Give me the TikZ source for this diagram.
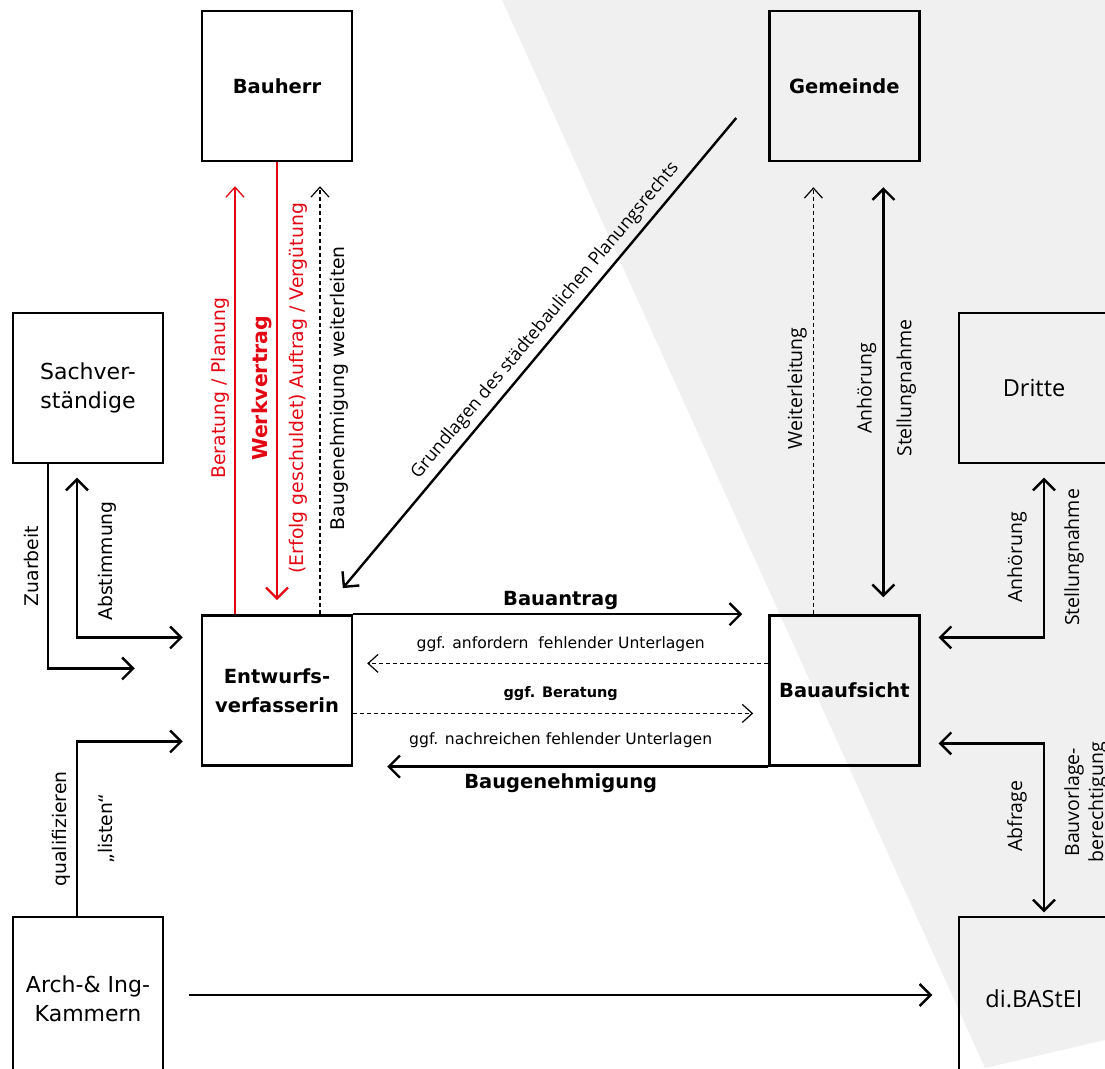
\documentclass[tikz,border=0pt]{standalone}
\usepackage{fontspec}
\setmainfont{DejaVu Sans}
\newfontfamily\osans{Open Sans}
\usetikzlibrary{positioning, arrows.meta}
\definecolor{dbred}{HTML}{E30613}
\definecolor{dbgray}{HTML}{F0F0F0}

\begin{document}
\begin{tikzpicture}[x=1pt, y=-1pt]
\tikzstyle{sqr}=[rectangle, draw=black, line width=2.4pt, minimum size=150pt, align=center, font=\fontsize{19.5}{29}\selectfont\bfseries]
\tikzstyle{sqrl}=[rectangle, draw=black, line width=1.4pt, minimum size=150pt, align=center, font=\fontsize{22}{29}\selectfont]
\tikzstyle{connect}=[->, >={Straight Barb[length=11pt, width=22pt]}, line width=2.4pt]
\tikzstyle{both}=[connect, <->]
\tikzstyle{fine}=[->, >={Straight Barb[length=10pt, width=18pt]}, line width=1.2pt]
\tikzstyle{dashd}=[fine, dash pattern=on 4pt off 3pt]
\tikzstyle{lbl}=[inner sep=2pt, font=\fontsize{18.8}{22}\selectfont]
\tikzstyle{lblh}=[inner sep=2pt, font=\fontsize{15.6}{19}\selectfont]
\tikzstyle{lblb}=[inner sep=2pt, font=\fontsize{19.5}{23}\selectfont\bfseries]
\tikzstyle{lblo}=[inner sep=2pt, font=\osans\fontsize{19.5}{24}\selectfont]
\tikzstyle{vl}=[rotate=90, anchor=south]
\tikzstyle{vr}=[rotate=90, anchor=north]
% 1. Background
%%%%%%%%%%%%%%%
\useasboundingbox (0,0) rectangle (1105,1068);
\clip (0,0) rectangle (1105,1068);
\fill[dbgray] (502,0) -- (1105,0) -- (1105,1040) -- (985,1068) -- cycle;
% 2. Nodes
%%%%%%%%%%
\node[sqr] (bauherr) at (277,86) {Bauherr};
\node[sqr] (gemeinde) [right=415pt of bauherr] {Gemeinde};
\node[sqr] (entwurf) [below=452pt of bauherr] {Entwurfs-\\verfasserin};
\node[sqr] (aufsicht) [below=452pt of gemeinde] {Bauaufsicht};
\node[sqrl] (sachv) at (88,388) {Sachver-\\ständige};
\node[sqrl, font=\osans\fontsize{23.5}{28}\selectfont] (dritte) at (1034,388) {Dritte};
\node[sqrl, minimum height=164pt] (kammern) at (88,999) {Arch-\& Ing-\\Kammern};
\node[sqrl, minimum height=164pt, font=\osans\fontsize{23.5}{28}\selectfont] (bastei) at (1034,999) {di.BAStEI};
% 3. Arrows
%%%%%%%%%%%
% Bauherr - Entwurfsverfasserin
\draw[fine, dbred, line width=1.3pt, shorten >=24pt] ([xshift=-42pt]entwurf.north) -- ([xshift=-42pt]bauherr.south)
    node[midway, xshift=-3pt, vl, lbl] {Beratung / Planung};
\draw[connect, dbred, shorten >=14pt] (bauherr.south) -- (entwurf.north)
    node[midway, xshift=-2pt, vl, lblb, font=\fontsize{20.5}{24}\selectfont\bfseries] {Werkvertrag}
    node[midway, xshift=9pt, vr, lbl] {(Erfolg geschuldet) Auftrag / Vergütung};
\draw[dashd, shorten >=24pt] ([xshift=43pt]entwurf.north) -- ([xshift=43pt]bauherr.south)
    node[midway, xshift=8pt, vr, lbl] {Baugenehmigung weiterleiten};
% Gemeinde
\draw[connect, shorten >=34pt] ([xshift=-32pt, yshift=-32pt]gemeinde.west) -- ([xshift=44pt]entwurf.north)
    node[pos=0.43, sloped, above=4pt, lblo, font=\osans\fontsize{18}{21}\selectfont] {Grundlagen des städtebaulichen Planungsrechts};
\draw[dashd, shorten >=25pt] ([xshift=-31pt]aufsicht.north) -- ([xshift=-31pt]gemeinde.south)
    node[midway, xshift=-4pt, vl, lblo] {Weiterleitung};
\draw[both, shorten <=17pt, shorten >=25pt] ([xshift=39pt]aufsicht.north) -- ([xshift=39pt]gemeinde.south)
    node[midway, xshift=-4pt, vl, lblo] {Anhörung}
    node[midway, xshift=10pt, vr, lblo] {Stellungnahme};
% Sachverstaendige, Kammern
\draw[connect, shorten >=66pt] ([xshift=-40pt]sachv.south) |- ([yshift=22pt]entwurf.west)
    node[pos=0.25, xshift=-6pt, vl, lbl] {Zuarbeit};
\draw[both, shorten <=14pt, shorten >=18pt] ([xshift=-11pt]sachv.south) |- ([yshift=53pt]entwurf.west)
    node[pos=0.28, xshift=18pt, vr, lbl] {Abstimmung};
\draw[connect, shorten >=18pt] ([xshift=-11pt]kammern.north) |- ([yshift=-51pt]entwurf.west)
    node[pos=0.25, xshift=-3pt, vl, lbl] {qualifizieren}
    node[pos=0.25, xshift=18pt, vr, lbl] {„listen“};
\draw[connect, shorten <=25pt, shorten >=26pt] ([yshift=4pt]kammern.east) -- ([yshift=4pt]bastei.west);
% Entwurfsverfasserin - Bauaufsicht
\draw[connect, shorten >=26pt] (entwurf.north east) -- (aufsicht.north west)
    node[midway, above=1pt, lblb] {Bauantrag};
\draw[dashd, shorten >=14pt] ([yshift=27pt]aufsicht.west) -- ([yshift=27pt]entwurf.east)
    node[midway, above=9pt, lblh] {ggf. anfordern\ \ fehlender Unterlagen};
\draw[dashd, shorten >=15pt] ([yshift=-23pt]entwurf.east) -- ([yshift=-23pt]aufsicht.west)
    node[midway, above=10pt, lblh, font=\fontsize{14.5}{18}\selectfont\bfseries] {ggf. Beratung};
\draw[connect, shorten >=34pt] (aufsicht.south west) -- (entwurf.south east)
    node[midway, above=16pt, lblh] {ggf. nachreichen fehlender Unterlagen}
    node[midway, below=4pt, lblb] {Baugenehmigung};
% Dritte, di.BAStEI
\draw[both, shorten <=14pt, shorten >=18pt] ([xshift=10pt]dritte.south) |- ([yshift=53pt]aufsicht.east)
    node[pos=0.27, xshift=-14pt, vl, lblo] {Anhörung}
    node[pos=0.27, xshift=17pt, vr, lblo] {Stellungnahme};
\draw[both, shorten <=4pt, shorten >=18pt] ([xshift=10pt]bastei.north) |- ([yshift=-53pt]aufsicht.east)
    node[pos=0.29, xshift=-14pt, vl, lblo] {Abfrage}
    node[pos=0.33, xshift=17pt, vr, lblo, align=center] {Bauvorlage-\\berechtigung};
\end{tikzpicture}
\end{document}
